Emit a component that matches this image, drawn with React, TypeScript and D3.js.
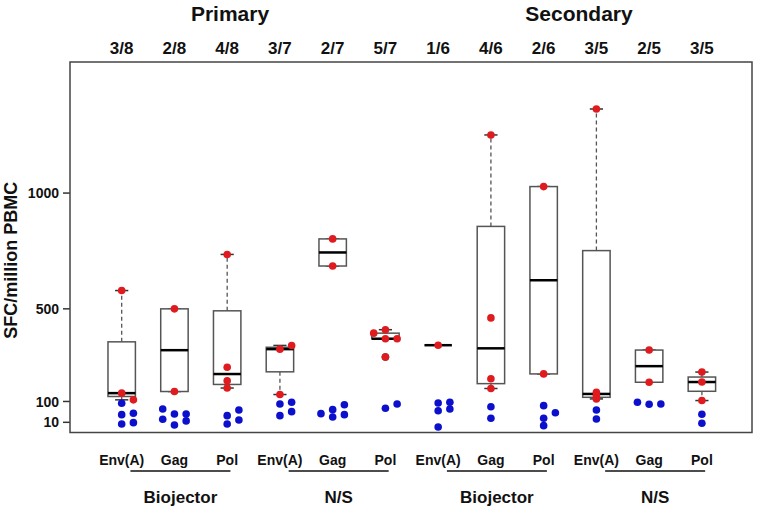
import React from "react";
import * as d3 from "d3";

const W = 759;
const H = 514;

const panels = ["Primary", "Secondary"];
const panelLabelX = [230, 579];
const categories = ["Env(A)", "Gag", "Pol", "Env(A)", "Gag", "Pol", "Env(A)", "Gag", "Pol", "Env(A)", "Gag", "Pol"];
const groups = ["Biojector", "N/S", "Biojector", "N/S"];
const counts = ["3/8", "2/8", "4/8", "3/7", "2/7", "5/7", "1/6", "4/6", "2/6", "3/5", "2/5", "3/5"];
const yTicks = [10, 100, 500, 1000];

// responders (red) values and their stack column (-1, 0, 1)
const responders = [
  [579, 136, 107],
  [500, 143],
  [735, 248, 189, 158],
  [326, 342, 130],
  [802, 685],
  [395, 410, 371, 371, 292],
  [343],
  [1251, 461, 198, 156],
  [1028, 219],
  [1363, 140, 125, 111],
  [322, 183],
  [227, 184, 104],
];
const responderCols = [
  [0, 0, 1],
  [0, 0],
  [0, 0, 0, 0],
  [0, 1, 0],
  [0, 0],
  [-1, 0, 0, 1, 0],
  [0],
  [0, 0, 0, 0],
  [0, 0],
  [0, 0, 0, 0],
  [0, 0],
  [0, 0, 0],
];
// non-responders (blue)
const nonResponders = [
  [92, 43, 49, 3, 8.5],
  [67.6, 23, 46, -1.5, 46, 16],
  [38.7, 3, 63, 20],
  [89, 38.7, 96.5, 56],
  [47.3, 64.6, 33, 86, 43],
  [70.6, 89],
  [93.5, 60, 96.5, 67.6, -10],
  [77.5, 27.5],
  [82, 27.5, -4.5, 51.6],
  [63, 24],
  [96.5, 88, 89],
  [44.7, 6],
];
const nonResponderCols = [
  [0, 0, 1, 0, 1],
  [-1, -1, 0, 0, 1, 1],
  [0, 0, 1, 1],
  [0, 0, 1, 1],
  [-1, 0, 0, 1, 1],
  [0, 1],
  [0, 0, 1, 1, 0],
  [0, 0],
  [0, 0, 0, 1],
  [0, 0],
  [-1, 0, 1],
  [0, 0],
];

const FONT = "'Liberation Sans', Arial, Helvetica, sans-serif";
const RED = "#e01b1f";
const BLUE = "#0c10cc";

function fivenum(vals: number[]) {
  const x = [...vals].sort((a, b) => a - b);
  const n = x.length;
  const n4 = Math.floor((n + 3) / 2) / 2;
  const d = [1, n4, (n + 1) / 2, n + 1 - n4, n];
  return d.map((k) => 0.5 * (x[Math.floor(k) - 1] + x[Math.ceil(k) - 1]));
}

function boxStats(vals: number[]) {
  const [mn, q1, med, q3, mx] = fivenum(vals);
  const iqr = q3 - q1;
  const lo = q1 - 1.5 * iqr;
  const hi = q3 + 1.5 * iqr;
  const inside = vals.filter((v) => v >= lo && v <= hi);
  return {
    q1,
    med,
    q3,
    wLo: d3.min(inside) ?? mn,
    wHi: d3.max(inside) ?? mx,
    out: vals.filter((v) => v < lo || v > hi),
  };
}

export default function App() {
  const left = 70, right = 752, top = 62, bottom = 432.5;
  const x = d3.scaleLinear().domain([0.02, 12.95]).range([left, right]);
  const y = d3.scaleLinear().domain([-34, 1566]).range([bottom, top]);
  const boxHalf = 0.26;
  const capHalf = 0.125;
  const colStep = 0.222;

  return (
    <div style={{ position: "absolute", left: 0, top: 0 }}>
      <svg width={W} height={H} style={{ display: "block", background: "#fff" }} fontFamily={FONT}>
        {panels.map((p, i) => (
          <text key={p} x={panelLabelX[i]} y={21} textAnchor="middle" fontSize={21} fontWeight="bold" fill="#111">
            {p}
          </text>
        ))}
        {counts.map((c, i) => (
          <text key={"c" + i} x={x(i + 1)} y={54} textAnchor="middle" fontSize={17} fontWeight="bold" fill="#111">
            {c}
          </text>
        ))}

        {/* y axis */}
        {yTicks.map((t) => (
          <g key={t}>
            <line x1={left - 7} x2={left} y1={y(t)} y2={y(t)} stroke="#333" strokeWidth={1.5} />
            <text x={left - 11} y={y(t)} dy="0.36em" textAnchor="end" fontSize={14} fontWeight="bold" fill="#111">
              {t}
            </text>
          </g>
        ))}
        <text
          transform={`translate(17,${(top + bottom) / 2 + 13}) rotate(-90)`}
          textAnchor="middle"
          fontSize={18}
          fontWeight="bold"
          fill="#111"
        >
          SFC/million PBMC
        </text>

        {/* boxes */}
        {responders.map((vals, i) => {
          const s = boxStats(vals);
          const cx = x(i + 1);
          const bl = x(i + 1 - boxHalf), br = x(i + 1 + boxHalf);
          const cl = x(i + 1 - capHalf), cr = x(i + 1 + capHalf);
          return (
            <g key={"b" + i}>
              <line x1={cx} x2={cx} y1={y(s.q3)} y2={y(s.wHi)} stroke="#555" strokeWidth={1.3} strokeDasharray="4,3" />
              <line x1={cx} x2={cx} y1={y(s.q1)} y2={y(s.wLo)} stroke="#555" strokeWidth={1.3} strokeDasharray="4,3" />
              <line x1={cl} x2={cr} y1={y(s.wHi)} y2={y(s.wHi)} stroke="#333" strokeWidth={1.5} />
              <line x1={cl} x2={cr} y1={y(s.wLo)} y2={y(s.wLo)} stroke="#333" strokeWidth={1.5} />
              <rect x={bl} y={y(s.q3)} width={br - bl} height={y(s.q1) - y(s.q3)} fill="#fff" stroke="#555" strokeWidth={1.5} />
              <line x1={bl} x2={br} y1={y(s.med)} y2={y(s.med)} stroke="#000" strokeWidth={2.5} />
              {s.out.map((o, k) => (
                <circle key={k} cx={cx} cy={y(o)} r={3.5} fill="none" stroke="#333" />
              ))}
            </g>
          );
        })}

        {/* points */}
        {nonResponders.map((vals, i) =>
          vals.map((v, k) => (
            <circle key={`n${i}-${k}`} cx={x(i + 1 + nonResponderCols[i][k] * colStep)} cy={y(v)} r={3.8} fill={BLUE} />
          ))
        )}
        {responders.map((vals, i) =>
          vals.map((v, k) => (
            <circle key={`r${i}-${k}`} cx={x(i + 1 + responderCols[i][k] * colStep)} cy={y(v)} r={3.8} fill={RED} />
          ))
        )}

        <rect x={left} y={top} width={right - left} height={bottom - top} fill="none" stroke="#444" strokeWidth={1.5} />

        {/* x labels */}
        {categories.map((c, i) => (
          <text key={"x" + i} x={x(i + 1)} y={465} textAnchor="middle" fontSize={14} fontWeight="bold" fill="#111">
            {c}
          </text>
        ))}
        {groups.map((g, gi) => {
          const gc = x(gi * 3 + 2) + 6;
          return (
            <g key={"g" + gi}>
              <line x1={gc - 50} x2={gc + 50} y1={471} y2={471} stroke="#111" strokeWidth={1.5} />
              <text x={gc} y={503} textAnchor="middle" fontSize={17} fontWeight="bold" fill="#111">
                {g}
              </text>
            </g>
          );
        })}
      </svg>
    </div>
  );
}
